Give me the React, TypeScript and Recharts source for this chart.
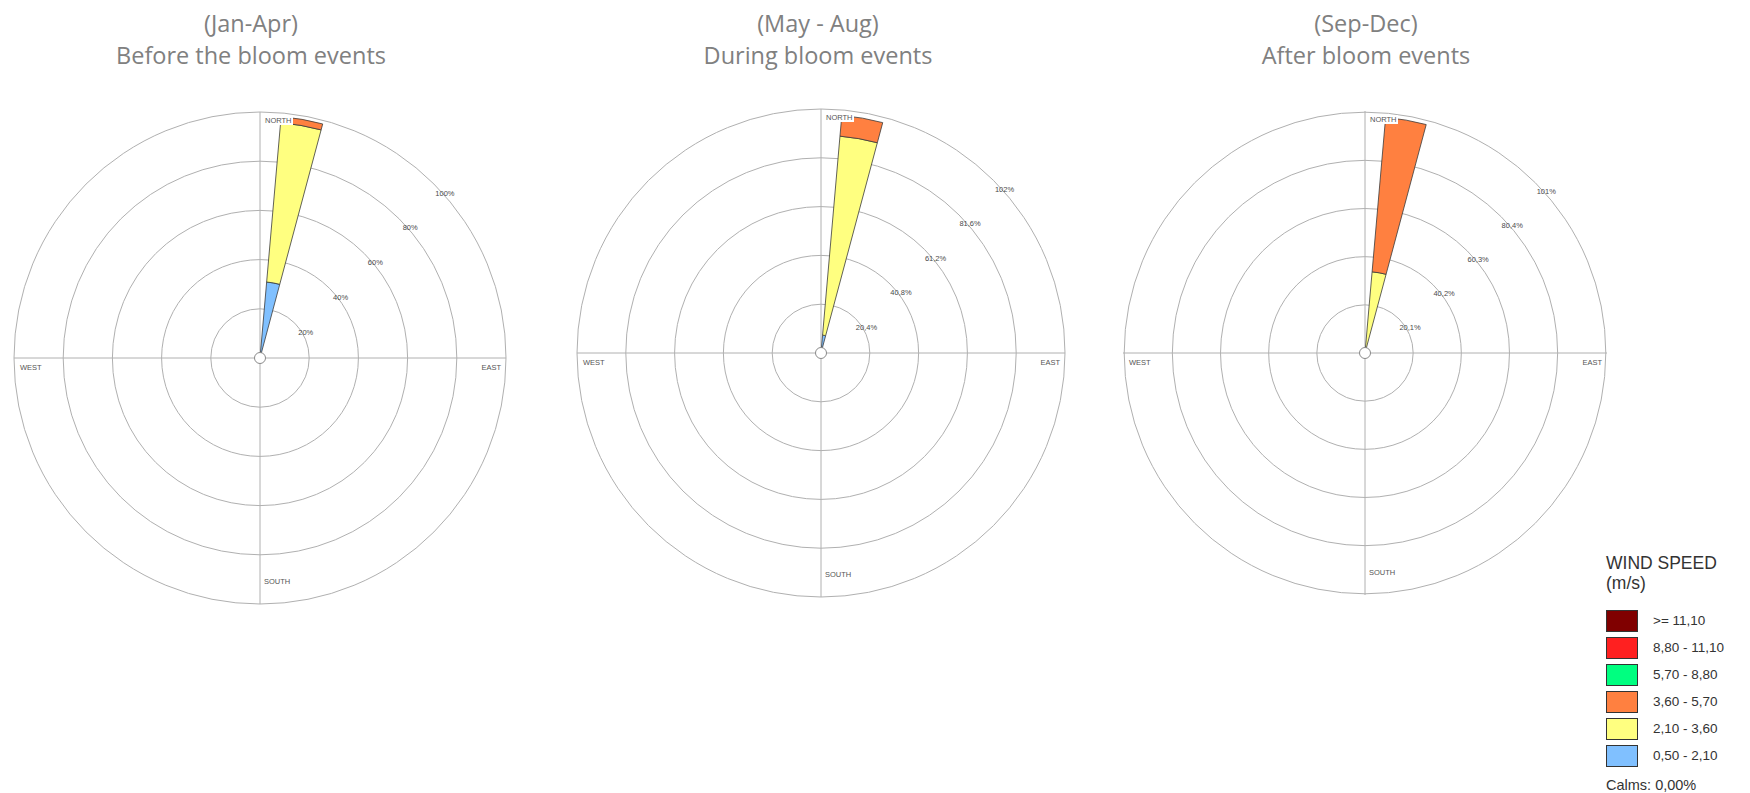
import React from "react"
import {
  RadialBarChart,
  RadialBar,
  PolarGrid,
  PolarAngleAxis,
  PolarRadiusAxis,
  Sector
} from "recharts"

// 36 direction sectors of 10°, clockwise from north
const directions = [
  "0°", "10°", "20°", "30°", "40°", "50°", "60°", "70°", "80°",
  "90°", "100°", "110°", "120°", "130°", "140°", "150°", "160°", "170°",
  "180°", "190°", "200°", "210°", "220°", "230°", "240°", "250°", "260°",
  "270°", "280°", "290°", "300°", "310°", "320°", "330°", "340°", "350°"
]

// wind speed classes (m/s), slowest first
const speedBins = ["0,50 - 2,10", "2,10 - 3,60", "3,60 - 5,70", "5,70 - 8,80", "8,80 - 11,10", ">= 11,10"]
const binColors = ["#80c0ff", "#ffff80", "#ff8040", "#00ff80", "#ff2020", "#800000"]

// frequency (%) per sector
const noWind = [0, 0, 0, 0, 0, 0, 0, 0, 0, 0, 0, 0, 0, 0, 0, 0, 0, 0, 0, 0, 0, 0, 0, 0, 0, 0, 0, 0, 0, 0, 0, 0, 0, 0, 0, 0]

const janAprLight = [0, 31, 0, 0, 0, 0, 0, 0, 0, 0, 0, 0, 0, 0, 0, 0, 0, 0, 0, 0, 0, 0, 0, 0, 0, 0, 0, 0, 0, 0, 0, 0, 0, 0, 0, 0]
const janAprGentle = [0, 65, 0, 0, 0, 0, 0, 0, 0, 0, 0, 0, 0, 0, 0, 0, 0, 0, 0, 0, 0, 0, 0, 0, 0, 0, 0, 0, 0, 0, 0, 0, 0, 0, 0, 0]
const janAprModerate = [0, 2.5, 0, 0, 0, 0, 0, 0, 0, 0, 0, 0, 0, 0, 0, 0, 0, 0, 0, 0, 0, 0, 0, 0, 0, 0, 0, 0, 0, 0, 0, 0, 0, 0, 0, 0]

const mayAugLight = [0, 7.5, 0, 0, 0, 0, 0, 0, 0, 0, 0, 0, 0, 0, 0, 0, 0, 0, 0, 0, 0, 0, 0, 0, 0, 0, 0, 0, 0, 0, 0, 0, 0, 0, 0, 0]
const mayAugGentle = [0, 83.5, 0, 0, 0, 0, 0, 0, 0, 0, 0, 0, 0, 0, 0, 0, 0, 0, 0, 0, 0, 0, 0, 0, 0, 0, 0, 0, 0, 0, 0, 0, 0, 0, 0, 0]
const mayAugModerate = [0, 8.7, 0, 0, 0, 0, 0, 0, 0, 0, 0, 0, 0, 0, 0, 0, 0, 0, 0, 0, 0, 0, 0, 0, 0, 0, 0, 0, 0, 0, 0, 0, 0, 0, 0, 0]

const sepDecGentle = [0, 34, 0, 0, 0, 0, 0, 0, 0, 0, 0, 0, 0, 0, 0, 0, 0, 0, 0, 0, 0, 0, 0, 0, 0, 0, 0, 0, 0, 0, 0, 0, 0, 0, 0, 0]
const sepDecModerate = [0, 64.7, 0, 0, 0, 0, 0, 0, 0, 0, 0, 0, 0, 0, 0, 0, 0, 0, 0, 0, 0, 0, 0, 0, 0, 0, 0, 0, 0, 0, 0, 0, 0, 0, 0, 0]

// ring ticks (%)
const janAprTicks = [20, 40, 60, 80, 100]
const janAprTickLabels = ["20%", "40%", "60%", "80%", "100%"]
const mayAugTicks = [20.4, 40.8, 61.2, 81.6, 102]
const mayAugTickLabels = ["20,4%", "40,8%", "61,2%", "81,6%", "102%"]
const sepDecTicks = [20.1, 40.2, 60.3, 80.4, 100.5]
const sepDecTickLabels = ["20,1%", "40,2%", "60,3%", "80,4%", "101%"]

const periods = [
  {
    range: "(Jan-Apr)",
    title: "Before the bloom events",
    bins: [janAprLight, janAprGentle, janAprModerate, noWind, noWind, noWind],
    ticks: janAprTicks,
    tickLabels: janAprTickLabels
  },
  {
    range: "(May - Aug)",
    title: "During bloom events",
    bins: [mayAugLight, mayAugGentle, mayAugModerate, noWind, noWind, noWind],
    ticks: mayAugTicks,
    tickLabels: mayAugTickLabels
  },
  {
    range: "(Sep-Dec)",
    title: "After bloom events",
    bins: [noWind, sepDecGentle, sepDecModerate, noWind, noWind, noWind],
    ticks: sepDecTicks,
    tickLabels: sepDecTickLabels
  }
]

// where each rose sits on the page
const frames = [
  { cx: 260, cy: 358, r: 246, titleX: 251 },
  { cx: 821, cy: 353, r: 244, titleX: 818 },
  { cx: 1365, cy: 353, r: 242, titleX: 1366 }
]

const SIZE = 520
const labelFont = "'Liberation Sans', Arial, sans-serif"

const WedgeShape = (props: any) => {
  const { cx, cy, innerRadius, outerRadius, startAngle, endAngle, fill } = props
  if (!(outerRadius - innerRadius > 0.05)) return null
  return (
    <Sector
      cx={cx}
      cy={cy}
      innerRadius={innerRadius}
      outerRadius={outerRadius}
      startAngle={startAngle}
      endAngle={endAngle}
      fill={fill}
      stroke="#3a3a3a"
      strokeWidth={0.8}
    />
  )
}

function WindRose({ period, frame }: { period: typeof periods[number]; frame: typeof frames[number] }) {
  const data = directions.map((dir, i) => {
    const row: any = { dir }
    period.bins.forEach((bin, b) => {
      row["b" + b] = bin[i]
    })
    return row
  })
  const max = period.ticks[period.ticks.length - 1]

  const RingTick = ({ x, y, payload }: any) => {
    const idx = period.ticks.indexOf(payload.value)
    if (idx < 0) return null
    return (
      <text
        x={x + 11}
        y={y + 9}
        textAnchor="middle"
        dominantBaseline="central"
        fontSize={7.5}
        fontFamily={labelFont}
        fill="#4a4a4a"
      >
        {period.tickLabels[idx]}
      </text>
    )
  }

  const dirStyle: React.CSSProperties = {
    position: "absolute",
    fontFamily: labelFont,
    fontSize: 7.5,
    color: "#555",
    lineHeight: "9px",
    whiteSpace: "nowrap"
  }
  const c = SIZE / 2

  return (
    <div
      style={{
        position: "absolute",
        left: frame.cx - c,
        top: frame.cy - c,
        width: SIZE,
        height: SIZE
      }}
    >
      <RadialBarChart
        width={SIZE}
        height={SIZE}
        cx={c}
        cy={c}
        innerRadius={0}
        outerRadius={frame.r}
        startAngle={85}
        endAngle={-275}
        layout="centric"
        data={data}
        barCategoryGap={0}
        barGap={0}
        margin={{ top: 0, right: 0, bottom: 0, left: 0 }}
      >
        <PolarGrid
          gridType="circle"
          polarAngles={[90, 0, -90, 180]}
          stroke="#b0b0b0"
          strokeWidth={1}
        />
        <PolarAngleAxis type="category" dataKey="dir" tick={false} tickLine={false} axisLine={false} />
        <PolarRadiusAxis
          type="number"
          domain={[0, max]}
          allowDataOverflow
          ticks={period.ticks}
          angle={45}
          axisLine={false}
          tickLine={false}
          tick={<RingTick />}
        />
        {speedBins.map((name, b) => (
          <RadialBar
            key={name}
            name={name}
            dataKey={"b" + b}
            stackId="wind"
            fill={binColors[b]}
            shape={WedgeShape}
            isAnimationActive={false}
          />
        ))}
      </RadialBarChart>
      <div style={{ ...dirStyle, left: c + 4, top: c - frame.r + 4, background: "#fff", padding: "0 1px" }}>NORTH</div>
      <div style={{ ...dirStyle, left: c + 4, top: c + frame.r - 27 }}>SOUTH</div>
      <div style={{ ...dirStyle, left: c - frame.r + 6, top: c + 5 }}>WEST</div>
      <div style={{ ...dirStyle, right: c - frame.r + 5, top: c + 5 }}>EAST</div>
      <div
        style={{
          position: "absolute",
          left: c - 6,
          top: c - 6,
          width: 12,
          height: 12,
          boxSizing: "border-box",
          borderRadius: "50%",
          border: "1.5px solid #8a8a8a",
          background: "#fff"
        }}
      />
    </div>
  )
}

function SpeedLegend() {
  const order = speedBins.map((_, i) => i).reverse()
  return (
    <div
      style={{
        position: "absolute",
        left: 1606,
        top: 553,
        fontFamily: labelFont,
        color: "#333"
      }}
    >
      <div style={{ fontSize: 17.5, lineHeight: "20px" }}>WIND SPEED</div>
      <div style={{ fontSize: 17.5, lineHeight: "20px", marginBottom: 14 }}>(m/s)</div>
      {order.map(i => (
        <div key={speedBins[i]} style={{ display: "flex", alignItems: "center", height: 27 }}>
          <div
            style={{
              width: 32,
              height: 22,
              boxSizing: "border-box",
              border: "1.5px solid #333",
              background: binColors[i]
            }}
          />
          <span style={{ marginLeft: 15, fontSize: 13.5 }}>{speedBins[i]}</span>
        </div>
      ))}
      <div style={{ fontSize: 14.5, marginTop: 8 }}>Calms: 0,00%</div>
    </div>
  )
}

export default function App() {
  return (
    <div
      style={{
        position: "absolute",
        left: 0,
        top: 0,
        width: 1750,
        height: 793,
        background: "#fff",
        overflow: "hidden"
      }}
    >
      {periods.map((p, i) => (
        <div
          key={p.range}
          style={{
            position: "absolute",
            left: frames[i].titleX - 200,
            top: 7,
            width: 400,
            textAlign: "center",
            fontFamily: "'Open Sans', sans-serif",
            fontSize: 23.5,
            lineHeight: "32px",
            color: "#808080"
          }}
        >
          <div>{p.range}</div>
          <div>{p.title}</div>
        </div>
      ))}
      {periods.map((p, i) => (
        <WindRose key={p.range} period={p} frame={frames[i]} />
      ))}
      <SpeedLegend />
    </div>
  )
}
